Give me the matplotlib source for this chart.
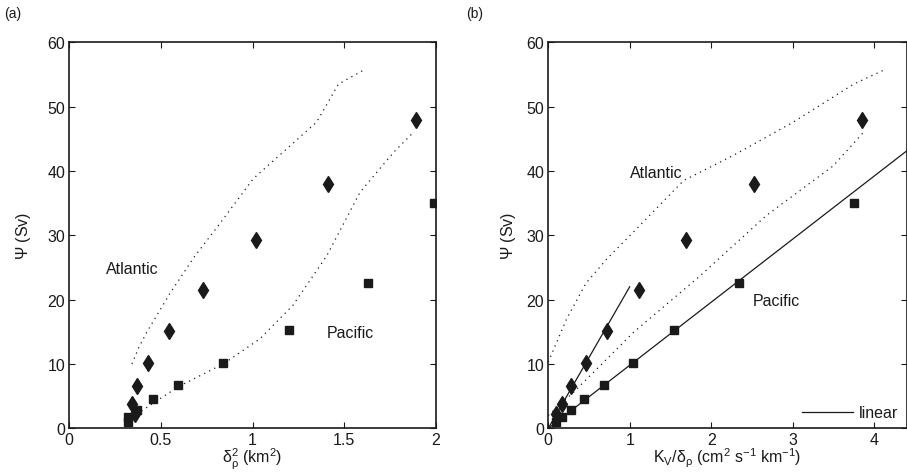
import numpy as np
import matplotlib
matplotlib.use('Agg')
from matplotlib import pyplot as plt

plt.rcParams['font.family'] = ['Liberation Sans', 'DejaVu Sans']
plt.rcParams['mathtext.default'] = 'regular'
plt.rcParams['font.size'] = 11.5

# observed transports (Sv)
psi_atl = [2.3, 3.7, 6.5, 10.1, 15.2, 21.5, 29.2, 37.9, 47.9]
psi_pac = [1.0, 1.8, 2.9, 4.6, 6.8, 10.1, 15.3, 22.6, 35.0]

# panel (a): delta_rho^2 (km^2)
d2_atl = [0.36, 0.342, 0.369, 0.431, 0.542, 0.730, 1.017, 1.410, 1.894]
d2_pac = [0.318, 0.32, 0.368, 0.455, 0.595, 0.839, 1.197, 1.629, 1.993]

# panel (b): K_V / delta_rho
kd_atl = [0.09, 0.164, 0.275, 0.459, 0.717, 1.111, 1.693, 2.529, 3.852]
kd_pac = [0.09, 0.17, 0.279, 0.443, 0.689, 1.041, 1.549, 2.348, 3.758]

# dotted model curves
a_atl_x = [0.342, 0.38, 0.422, 0.55, 0.686, 0.813, 1.004, 1.205, 1.35, 1.469, 1.614]
a_atl_y = [10.0, 12.6, 14.9, 21.0, 26.8, 31.5, 38.8, 43.9, 47.6, 53.5, 55.8]
a_pac_x = [0.368, 0.495, 0.604, 0.84, 1.04, 1.22, 1.405, 1.587, 1.77, 1.878]
a_pac_y = [2.2, 4.6, 6.6, 10.0, 13.9, 19.1, 26.8, 36.7, 42.9, 46.0]

b_atl_x = [0.0, 0.225, 0.46, 0.717, 1.045, 1.66, 2.27, 3.01, 3.75, 4.14]
b_atl_y = [10.3, 17.0, 22.5, 26.3, 30.5, 38.5, 42.4, 47.6, 53.5, 55.8]
b_pac_x = [0.0, 0.31, 1.045, 1.865, 2.68, 3.5, 3.87]
b_pac_y = [2.0, 5.6, 14.9, 23.7, 33.1, 40.8, 46.0]

# linear fits in (b)
fit_atl_x = [0.0, 1.0]
fit_atl_y = [0.0, 22.0]
fit_pac_x = [0.0, 4.41]
fit_pac_y = [0.0, 43.2]

C = '#1a1a1a'
DOT = (1, 3.5)


def style_axes(ax):
    ax.tick_params(direction='in', top=True, right=True, length=4, width=0.8,
                   colors=C, labelsize=11.5, pad=3)
    for s in ax.spines.values():
        s.set_linewidth(1.2)
        s.set_color(C)


fig = plt.figure(figsize=(9.07, 4.77), dpi=100)
ax1 = fig.add_axes([0.0764, 0.100, 0.404, 0.8092])
ax2 = fig.add_axes([0.6045, 0.100, 0.3950, 0.8092])

# (a)
ax1.plot(a_atl_x, a_atl_y, color=C, lw=0.9, dashes=DOT)
ax1.plot(a_pac_x, a_pac_y, color=C, lw=0.9, dashes=DOT)
ax1.plot(d2_atl, psi_atl, 'd', color=C, ms=8.5)
ax1.plot(d2_pac, psi_pac, 's', color=C, ms=5.5)
ax1.text(0.2, 24.9, 'Atlantic', va='center', ha='left', color=C)
ax1.text(1.405, 14.9, 'Pacific', va='center', ha='left', color=C)
ax1.set_xlim(0, 2)
ax1.set_ylim(0, 60)
ax1.set_xticks([0, 0.5, 1, 1.5, 2])
ax1.set_xticklabels(['0', '0.5', '1', '1.5', '2'])
ax1.set_yticks(np.arange(0, 61, 10))
ax1.set_xlabel(r'$\delta_\rho^2$ (km$^2$)', color=C, labelpad=-1)
ax1.set_ylabel(r'$\Psi$ (Sv)', color=C, labelpad=10)
style_axes(ax1)

# (b)
ax2.plot(b_atl_x, b_atl_y, color=C, lw=0.9, dashes=DOT)
ax2.plot(b_pac_x, b_pac_y, color=C, lw=0.9, dashes=DOT)
ax2.plot(fit_atl_x, fit_atl_y, '-', color=C, lw=0.9, label='linear')
ax2.plot(fit_pac_x, fit_pac_y, '-', color=C, lw=0.9)
ax2.plot(kd_atl, psi_atl, 'd', color=C, ms=8.5)
ax2.plot(kd_pac, psi_pac, 's', color=C, ms=5.5)
ax2.text(1.004, 39.8, 'Atlantic', va='center', ha='left', color=C)
ax2.text(2.508, 19.8, 'Pacific', va='center', ha='left', color=C)
ax2.set_xlim(0, 4.4)
ax2.set_ylim(0, 60)
ax2.set_xticks([0, 1, 2, 3, 4])
ax2.set_yticks(np.arange(0, 61, 10))
ax2.set_xlabel(r'$K_V/\delta_\rho$ (cm$^2$ s$^{-1}$ km$^{-1}$)', color=C, labelpad=-1)
ax2.set_ylabel(r'$\Psi$ (Sv)', color=C, labelpad=6)
leg = ax2.legend(loc='lower right', frameon=False, fontsize=11.5, handlelength=3.2,
                 borderaxespad=0.1, handletextpad=0.4)
for t in leg.get_texts():
    t.set_color(C)
style_axes(ax2)

fig.text(0.004, 0.962, '(a)', color=C, fontsize=10)
fig.text(0.514, 0.962, '(b)', color=C, fontsize=10)

fig.savefig('out.png', dpi=100)
